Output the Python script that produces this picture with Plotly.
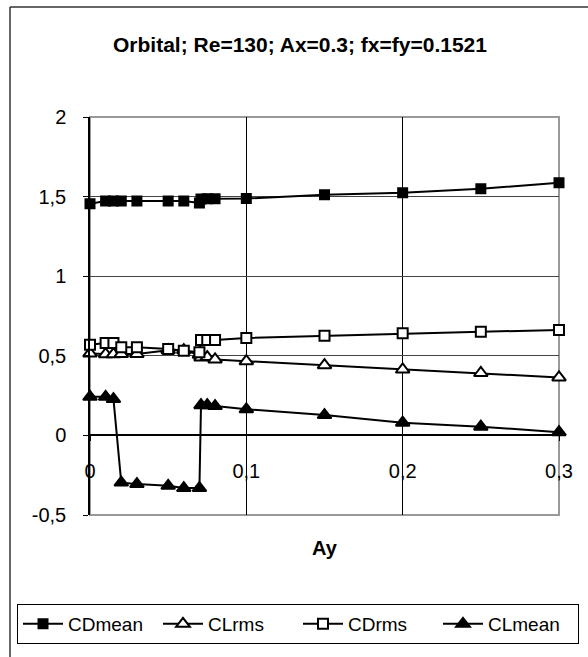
import plotly.graph_objects as go

# ---- data ----
Ay = [0, 0.01, 0.015, 0.02, 0.03, 0.05, 0.06, 0.07, 0.071, 0.075, 0.08, 0.1, 0.15, 0.2, 0.25, 0.3]
CDmean = [1.455, 1.472, 1.472, 1.472, 1.472, 1.472, 1.472, 1.46, 1.485, 1.487, 1.487, 1.488, 1.511, 1.524, 1.549, 1.587]
CLrms = [0.515, 0.51, 0.51, 0.512, 0.512, 0.535, 0.535, 0.507, 0.49, 0.492, 0.477, 0.466, 0.441, 0.414, 0.392, 0.364]
CDrms = [0.57, 0.58, 0.58, 0.553, 0.553, 0.543, 0.532, 0.522, 0.60, 0.60, 0.60, 0.612, 0.626, 0.641, 0.651, 0.662]
CLmean = [0.242, 0.242, 0.228, -0.296, -0.306, -0.317, -0.331, -0.331, 0.19, 0.19, 0.184, 0.164, 0.128, 0.08, 0.055, 0.02]

x_tickvals = [0, 0.1, 0.2, 0.3]
x_ticktext = ["0", "0,1", "0,2", "0,3"]
x_gridvals = [0.1, 0.2]
y_tickvals = [-0.5, 0, 0.5, 1, 1.5, 2]
y_ticktext = ["-0,5", "0", "0,5", "1", "1,5", "2"]
y_gridvals = [0.5, 1, 1.5]

title_text = "Orbital; Re=130; Ax=0.3; fx=fy=0.1521"
x_title = "Ay"

FONT = "Liberation Sans, Arial, sans-serif"
W, H = 588, 657
ML, MR, MT, MB = 90, 29, 117, 142
PW = W - ML - MR
PH = H - MT - MB

fig = go.Figure()

series = [
    ("CDmean", CDmean, "square", "black", 9),
    ("CLrms", CLrms, "triangle-up", "white", 12),
    ("CDrms", CDrms, "square", "white", 10),
    ("CLmean", CLmean, "triangle-up", "black", 12),
]
for name, vals, sym, fill, size in series:
    fig.add_trace(go.Scatter(
        x=Ay, y=vals, name=name, mode="lines+markers",
        line=dict(color="black", width=2),
        marker=dict(symbol=sym, size=size, color=fill,
                    line=dict(color="black", width=2)),
        cliponaxis=False,
    ))

xr = [0, 0.3]
yr = [-0.5, 2]
ypos0 = (0 - yr[0]) / (yr[1] - yr[0])

fig.update_layout(
    width=W, height=H,
    margin=dict(l=ML, r=MR, t=MT, b=MB, autoexpand=False),
    paper_bgcolor="white", plot_bgcolor="white",
    font=dict(family=FONT, size=20, color="black"),
    title=dict(text=title_text, x=300 / W, xref="container", xanchor="center",
               y=1 - 45 / H, yref="container", yanchor="middle",
               font=dict(family=FONT, size=21, color="black", weight="bold")),
    xaxis=dict(range=xr, tickmode="array", tickvals=x_tickvals, ticktext=x_ticktext,
               showgrid=False,
               minor=dict(tickmode="array", tickvals=x_gridvals, showgrid=True,
                          gridcolor="black", gridwidth=1, ticks=""),
               zeroline=False, showline=True, linecolor="black", linewidth=1.5,
               anchor="free", position=ypos0,
               ticks="outside", ticklen=5, tickcolor="black",
               ticklabelstandoff=13, tickfont=dict(size=20)),
    yaxis=dict(range=yr, tickmode="array", tickvals=y_tickvals, ticktext=y_ticktext,
               showgrid=False,
               minor=dict(tickmode="array", tickvals=y_gridvals, showgrid=True,
                          gridcolor="#444444", gridwidth=1, ticks=""),
               zeroline=False, showline=True, linecolor="black", linewidth=1.5,
               ticks="outside", ticklen=5, tickcolor="black",
               ticklabelstandoff=13, tickfont=dict(size=20)),
    legend=dict(orientation="h", xref="paper", yref="paper",
                x=(17 - ML) / PW, xanchor="left",
                y=(H - MB - 604) / PH, yanchor="top",
                bordercolor="black", borderwidth=1, bgcolor="white",
                font=dict(family=FONT, size=19, color="black"),
                itemwidth=40, entrywidth=85, entrywidthmode="pixels", tracegroupgap=0),
    showlegend=True,
)

# grey plot-area frame
fig.add_shape(type="rect", xref="x domain", yref="y domain", x0=0, x1=1, y0=0, y1=1,
              line=dict(color="#999999", width=2), layer="below")

# outer chart frame (left and top visible)
fx0 = (10 - ML) / PW
fy_top = (H - MB - 7) / PH
fig.add_shape(type="line", xref="paper", yref="paper", x0=fx0, x1=fx0, y0=fy_top, y1=-0.6,
              line=dict(color="#333333", width=1.5))
fig.add_shape(type="line", xref="paper", yref="paper", x0=fx0, x1=1.4, y0=fy_top, y1=fy_top,
              line=dict(color="#333333", width=1.5))

# x-axis title
fig.add_annotation(text="<b>%s</b>" % x_title, xref="paper", yref="paper",
                   x=0.5, y=(H - MB - 548) / PH, xanchor="center", yanchor="middle",
                   showarrow=False, font=dict(family=FONT, size=20, color="black"))

fig.write_html("out.html", config={"displayModeBar": False},
               post_script="document.body.style.margin='0px';")
